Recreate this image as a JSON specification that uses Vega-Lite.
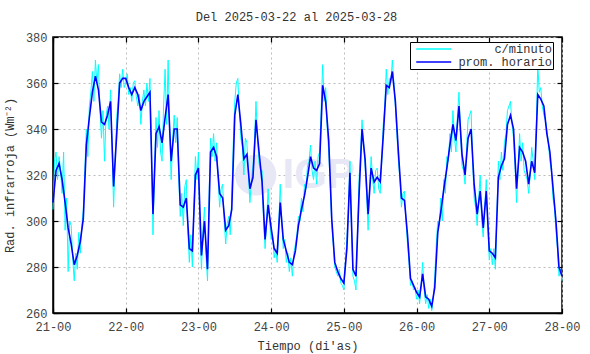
{
"$schema":"https://vega.github.io/schema/vega-lite/v6.json",
"autosize":"none","width":509,"height":276,
"padding":{"left":53,"top":37,"right":28,"bottom":41},
"title":{"text":"Del 2025-03-22 al 2025-03-28","fontSize":12,"fontWeight":"normal","color":"#333","offset":7,"dx":-11,"font":"Liberation Mono"},
"datasets":{
"horario":[{"t":0,"v":308},{"t":1,"v":322},{"t":2,"v":325},{"t":3,"v":318},{"t":4,"v":308},{"t":5,"v":297},{"t":6,"v":290},{"t":7,"v":281},{"t":8,"v":285},{"t":9,"v":291},{"t":10,"v":301},{"t":11,"v":333},{"t":12,"v":345},{"t":13,"v":356},{"t":14,"v":363},{"t":15,"v":357},{"t":16,"v":343},{"t":17,"v":342},{"t":18,"v":346},{"t":19,"v":352},{"t":20,"v":315},{"t":21,"v":337},{"t":22,"v":360},{"t":23,"v":362},
{"t":24,"v":362},{"t":25,"v":358},{"t":26,"v":355},{"t":27,"v":358},{"t":28,"v":355},{"t":29,"v":348},{"t":30,"v":352},{"t":31,"v":354},{"t":32,"v":356},{"t":33,"v":303},{"t":34,"v":338},{"t":35,"v":341},{"t":36,"v":334},{"t":37,"v":345},{"t":38,"v":355},{"t":39,"v":326},{"t":40,"v":340},{"t":41,"v":340},{"t":42,"v":307},{"t":43,"v":306},{"t":44,"v":310},{"t":45,"v":288},{"t":46,"v":287},{"t":47,"v":320},
{"t":48,"v":323},{"t":49,"v":285},{"t":50,"v":300},{"t":51,"v":279},{"t":52,"v":330},{"t":53,"v":332},{"t":54,"v":328},{"t":55,"v":312},{"t":56,"v":310},{"t":57,"v":296},{"t":58,"v":298},{"t":59,"v":305},{"t":60,"v":346},{"t":61,"v":355},{"t":62,"v":342},{"t":63,"v":327},{"t":64,"v":329},{"t":65,"v":314},{"t":66,"v":319},{"t":67,"v":344},{"t":68,"v":330},{"t":69,"v":317},{"t":70,"v":292},{"t":71,"v":307},
{"t":72,"v":297},{"t":73,"v":288},{"t":74,"v":286},{"t":75,"v":308},{"t":76,"v":292},{"t":77,"v":287},{"t":78,"v":282},{"t":79,"v":281},{"t":80,"v":287},{"t":81,"v":298},{"t":82,"v":305},{"t":83,"v":311},{"t":84,"v":319},{"t":85,"v":328},{"t":86,"v":323},{"t":87,"v":322},{"t":88,"v":325},{"t":89,"v":359},{"t":90,"v":352},{"t":91,"v":335},{"t":92,"v":301},{"t":93,"v":282},{"t":94,"v":278},{"t":95,"v":275},
{"t":96,"v":273},{"t":97,"v":288},{"t":98,"v":321},{"t":99,"v":279},{"t":100,"v":276},{"t":101,"v":311},{"t":102,"v":340},{"t":103,"v":327},{"t":104,"v":303},{"t":105,"v":323},{"t":106,"v":317},{"t":107,"v":319},{"t":108,"v":317},{"t":109,"v":337},{"t":110,"v":359},{"t":111,"v":358},{"t":112,"v":365},{"t":113,"v":352},{"t":114,"v":330},{"t":115,"v":310},{"t":116,"v":309},{"t":117,"v":294},{"t":118,"v":275},{"t":119,"v":272},
{"t":120,"v":269},{"t":121,"v":267},{"t":122,"v":277},{"t":123,"v":267},{"t":124,"v":266},{"t":125,"v":263},{"t":126,"v":271},{"t":127,"v":295},{"t":128,"v":304},{"t":129,"v":314},{"t":130,"v":323},{"t":131,"v":333},{"t":132,"v":342},{"t":133,"v":335},{"t":134,"v":350},{"t":135,"v":329},{"t":136,"v":320},{"t":137,"v":336},{"t":138,"v":340},{"t":139,"v":316},{"t":140,"v":303},{"t":141,"v":313},{"t":142,"v":297},{"t":143,"v":313},
{"t":144,"v":287},{"t":145,"v":286},{"t":146,"v":284},{"t":147,"v":319},{"t":148,"v":324},{"t":149,"v":327},{"t":150,"v":342},{"t":151,"v":346},{"t":152,"v":340},{"t":153,"v":314},{"t":154,"v":332},{"t":155,"v":330},{"t":156,"v":326},{"t":157,"v":316},{"t":158,"v":326},{"t":159,"v":321},{"t":160,"v":355},{"t":161,"v":353},{"t":162,"v":350},{"t":163,"v":338},{"t":164,"v":330},{"t":165,"v":315},{"t":166,"v":300},{"t":167,"v":280},{"t":168,"v":276}],
"minuto":[{"t":0,"v":305},{"t":0.5,"v":326},{"t":1,"v":330},{"t":1.5,"v":318},{"t":2,"v":328},{"t":2.5,"v":322},{"t":3,"v":312},{"t":3.5,"v":330},{"t":4,"v":296},{"t":4.5,"v":310},{"t":5,"v":278},{"t":5.5,"v":300},{"t":6,"v":298},{"t":6.5,"v":284},{"t":7,"v":274},{"t":7.5,"v":286},{"t":8,"v":279},{"t":8.5,"v":295},{"t":9,"v":286},{"t":9.5,"v":298},{"t":10,"v":305},{"t":10.5,"v":322},{"t":11,"v":340},{"t":11.5,"v":328},{"t":12,"v":350},{"t":12.5,"v":356},{"t":13,"v":365},{"t":13.5,"v":352},{"t":14,"v":370},{"t":14.5,"v":360},{"t":15,"v":368},{"t":15.5,"v":348},{"t":16,"v":336},{"t":16.5,"v":348},{"t":17,"v":326},{"t":17.5,"v":345},{"t":18,"v":350},{"t":18.5,"v":340},{"t":19,"v":357},{"t":19.5,"v":332},{"t":20,"v":306},{"t":20.5,"v":326},{"t":21,"v":345},{"t":21.5,"v":352},{"t":22,"v":364},{"t":22.5,"v":358},{"t":23,"v":366},{"t":23.5,"v":358},
{"t":24,"v":360},{"t":24.5,"v":364},{"t":25,"v":355},{"t":25.5,"v":358},{"t":26,"v":352},{"t":26.5,"v":360},{"t":27,"v":361},{"t":27.5,"v":354},{"t":28,"v":350},{"t":28.5,"v":355},{"t":29,"v":342},{"t":29.5,"v":352},{"t":30,"v":357},{"t":30.5,"v":350},{"t":31,"v":360},{"t":31.5,"v":352},{"t":32,"v":362},{"t":32.5,"v":330},{"t":33,"v":294},{"t":33.5,"v":322},{"t":34,"v":345},{"t":34.5,"v":332},{"t":35,"v":348},{"t":35.5,"v":330},{"t":36,"v":326},{"t":36.5,"v":350},{"t":37,"v":366},{"t":37.5,"v":342},{"t":38,"v":370},{"t":38.5,"v":338},{"t":39,"v":318},{"t":39.5,"v":336},{"t":40,"v":346},{"t":40.5,"v":334},{"t":41,"v":345},{"t":41.5,"v":318},{"t":42,"v":302},{"t":42.5,"v":312},{"t":43,"v":298},{"t":43.5,"v":315},{"t":44,"v":318},{"t":44.5,"v":296},{"t":45,"v":282},{"t":45.5,"v":294},{"t":46,"v":280},{"t":46.5,"v":306},{"t":47,"v":328},{"t":47.5,"v":318},
{"t":48,"v":330},{"t":48.5,"v":296},{"t":49,"v":279},{"t":49.5,"v":296},{"t":50,"v":306},{"t":50.5,"v":285},{"t":51,"v":274},{"t":51.5,"v":310},{"t":52,"v":336},{"t":52.5,"v":328},{"t":53,"v":338},{"t":53.5,"v":326},{"t":54,"v":334},{"t":54.5,"v":318},{"t":55,"v":306},{"t":55.5,"v":314},{"t":56,"v":316},{"t":56.5,"v":300},{"t":57,"v":290},{"t":57.5,"v":299},{"t":58,"v":302},{"t":58.5,"v":294},{"t":59,"v":310},{"t":59.5,"v":334},{"t":60,"v":352},{"t":60.5,"v":360},{"t":61,"v":362},{"t":61.5,"v":348},{"t":62,"v":336},{"t":62.5,"v":332},{"t":63,"v":320},{"t":63.5,"v":336},{"t":64,"v":334},{"t":64.5,"v":320},{"t":65,"v":308},{"t":65.5,"v":318},{"t":66,"v":324},{"t":66.5,"v":335},{"t":67,"v":352},{"t":67.5,"v":336},{"t":68,"v":325},{"t":68.5,"v":322},{"t":69,"v":322},{"t":69.5,"v":300},{"t":70,"v":288},{"t":70.5,"v":300},{"t":71,"v":314},{"t":71.5,"v":300},
{"t":72,"v":292},{"t":72.5,"v":294},{"t":73,"v":284},{"t":73.5,"v":288},{"t":74,"v":282},{"t":74.5,"v":298},{"t":75,"v":316},{"t":75.5,"v":300},{"t":76,"v":288},{"t":76.5,"v":292},{"t":77,"v":282},{"t":77.5,"v":286},{"t":78,"v":278},{"t":78.5,"v":284},{"t":79,"v":276},{"t":79.5,"v":286},{"t":80,"v":290},{"t":80.5,"v":294},{"t":81,"v":302},{"t":81.5,"v":300},{"t":82,"v":310},{"t":82.5,"v":304},{"t":83,"v":316},{"t":83.5,"v":314},{"t":84,"v":324},{"t":84.5,"v":326},{"t":85,"v":333},{"t":85.5,"v":322},{"t":86,"v":318},{"t":86.5,"v":326},{"t":87,"v":316},{"t":87.5,"v":328},{"t":88,"v":330},{"t":88.5,"v":348},{"t":89,"v":368},{"t":89.5,"v":352},{"t":90,"v":358},{"t":90.5,"v":340},{"t":91,"v":330},{"t":91.5,"v":316},{"t":92,"v":298},{"t":92.5,"v":290},{"t":93,"v":280},{"t":93.5,"v":278},{"t":94,"v":276},{"t":94.5,"v":279},{"t":95,"v":273},{"t":95.5,"v":272},
{"t":96,"v":270},{"t":96.5,"v":282},{"t":97,"v":292},{"t":97.5,"v":305},{"t":98,"v":326},{"t":98.5,"v":298},{"t":99,"v":276},{"t":99.5,"v":274},{"t":100,"v":270},{"t":100.5,"v":294},{"t":101,"v":318},{"t":101.5,"v":330},{"t":102,"v":344},{"t":102.5,"v":334},{"t":103,"v":324},{"t":103.5,"v":312},{"t":104,"v":296},{"t":104.5,"v":314},{"t":105,"v":328},{"t":105.5,"v":318},{"t":106,"v":312},{"t":106.5,"v":322},{"t":107,"v":323},{"t":107.5,"v":314},{"t":108,"v":312},{"t":108.5,"v":326},{"t":109,"v":342},{"t":109.5,"v":350},{"t":110,"v":366},{"t":110.5,"v":355},{"t":111,"v":362},{"t":111.5,"v":360},{"t":112,"v":370},{"t":112.5,"v":360},{"t":113,"v":350},{"t":113.5,"v":338},{"t":114,"v":326},{"t":114.5,"v":318},{"t":115,"v":306},{"t":115.5,"v":312},{"t":116,"v":313},{"t":116.5,"v":300},{"t":117,"v":290},{"t":117.5,"v":282},{"t":118,"v":272},{"t":118.5,"v":274},{"t":119,"v":270},{"t":119.5,"v":271},
{"t":120,"v":266},{"t":120.5,"v":270},{"t":121,"v":264},{"t":121.5,"v":272},{"t":122,"v":282},{"t":122.5,"v":270},{"t":123,"v":264},{"t":123.5,"v":268},{"t":124,"v":262},{"t":124.5,"v":266},{"t":125,"v":261},{"t":125.5,"v":266},{"t":126,"v":276},{"t":126.5,"v":290},{"t":127,"v":300},{"t":127.5,"v":298},{"t":128,"v":310},{"t":128.5,"v":300},{"t":129,"v":318},{"t":129.5,"v":312},{"t":130,"v":328},{"t":130.5,"v":326},{"t":131,"v":338},{"t":131.5,"v":330},{"t":132,"v":348},{"t":132.5,"v":336},{"t":133,"v":330},{"t":133.5,"v":346},{"t":134,"v":356},{"t":134.5,"v":338},{"t":135,"v":324},{"t":135.5,"v":322},{"t":136,"v":316},{"t":136.5,"v":332},{"t":137,"v":344},{"t":137.5,"v":346},{"t":138,"v":348},{"t":138.5,"v":326},{"t":139,"v":310},{"t":139.5,"v":306},{"t":140,"v":298},{"t":140.5,"v":310},{"t":141,"v":320},{"t":141.5,"v":300},{"t":142,"v":293},{"t":142.5,"v":306},{"t":143,"v":318},{"t":143.5,"v":298},
{"t":144,"v":283},{"t":144.5,"v":288},{"t":145,"v":281},{"t":145.5,"v":288},{"t":146,"v":279},{"t":146.5,"v":302},{"t":147,"v":326},{"t":147.5,"v":318},{"t":148,"v":330},{"t":148.5,"v":322},{"t":149,"v":334},{"t":149.5,"v":338},{"t":150,"v":348},{"t":150.5,"v":350},{"t":151,"v":352},{"t":151.5,"v":342},{"t":152,"v":336},{"t":152.5,"v":324},{"t":153,"v":308},{"t":153.5,"v":322},{"t":154,"v":338},{"t":154.5,"v":326},{"t":155,"v":334},{"t":155.5,"v":322},{"t":156,"v":320},{"t":156.5,"v":318},{"t":157,"v":312},{"t":157.5,"v":320},{"t":158,"v":332},{"t":158.5,"v":326},{"t":159,"v":318},{"t":159.5,"v":340},{"t":160,"v":368},{"t":160.5,"v":356},{"t":161,"v":358},{"t":161.5,"v":350},{"t":162,"v":346},{"t":162.5,"v":344},{"t":163,"v":340},{"t":163.5,"v":334},{"t":164,"v":326},{"t":164.5,"v":322},{"t":165,"v":310},{"t":165.5,"v":306},{"t":166,"v":296},{"t":166.5,"v":288},{"t":167,"v":276},{"t":167.5,"v":279},{"t":168,"v":274}]
},
"config":{
"font":"Liberation Mono",
"view":{"stroke":"#000","strokeWidth":1.5},
"axis":{"labelFont":"Liberation Mono","titleFont":"Liberation Mono","labelFontSize":12,"titleFontSize":12,"titleFontWeight":"normal","labelColor":"#444","titleColor":"#333","domainColor":"#000","domainWidth":1.5,"tickColor":"#000","tickSize":-5,"tickWidth":1.2,"gridColor":"#bbb","gridDash":[2,3],"gridWidth":1,"labelFlush":false,"labelOverlap":false}
},
"resolve":{"axis":{"x":"independent","y":"independent"}},
"layer":[
{"data":{"values":[{}]},"mark":{"type":"point","filled":true,"shape":"circle","size":1700,"color":"#e7e7f6","opacity":1},
"encoding":{"x":{"datum":66.9,"type":"quantitative","axis":null},"y":{"datum":320,"type":"quantitative","axis":null}}},
{"data":{"values":[{}]},"mark":{"type":"text","text":"IGP","font":"Liberation Sans","fontWeight":"bold","fontSize":42,"color":"#e7e7f6"},
"encoding":{"x":{"datum":87.7,"type":"quantitative","axis":{"orient":"top","labels":false,"title":null,"grid":false,"domain":false,"values":[0,24,48,72,96,120,144,168]}},"y":{"datum":320,"type":"quantitative","axis":{"orient":"right","labels":false,"title":null,"grid":false,"domain":false,"values":[260,280,300,320,340,360,380]}}}},
{"data":{"name":"minuto"},"mark":{"type":"line","strokeWidth":1},
"encoding":{
"x":{"field":"t","type":"quantitative","scale":{"domain":[0,168],"nice":false,"zero":false},"axis":{"orient":"bottom","values":[0,24,48,72,96,120,144,168],"labelExpr":"(21 + datum.value/24) + '-00'","title":"Tiempo (di'as)","labelPadding":13,"titlePadding":8,"grid":true}},
"y":{"field":"v","type":"quantitative","scale":{"domain":[260,380],"nice":false,"zero":false},"axis":{"orient":"left","values":[260,280,300,320,340,360,380],"title":"Rad. infrarroja (Wm⁻²)","labelPadding":11,"titlePadding":9,"grid":true}},
"color":{"datum":"c/minuto","scale":{"domain":["c/minuto","prom. horario"],"range":["#00ffff","#0000ff"]},
"legend":{"title":null,"orient":"none","legendX":357,"legendY":5,"symbolType":"M-0.25,0H11.4","symbolSize":36,"symbolStrokeWidth":1.5,"labelAlign":"right","labelOffset":129,"labelFontSize":12,"labelFont":"Liberation Mono","labelColor":"#333","strokeColor":"#000","fillColor":"#fff","padding":1,"rowPadding":1}}}},
{"data":{"name":"horario"},"mark":{"type":"line","strokeWidth":1.6},
"encoding":{"x":{"field":"t","type":"quantitative","axis":null},"y":{"field":"v","type":"quantitative","axis":null},"color":{"datum":"prom. horario"}}}
]
}
